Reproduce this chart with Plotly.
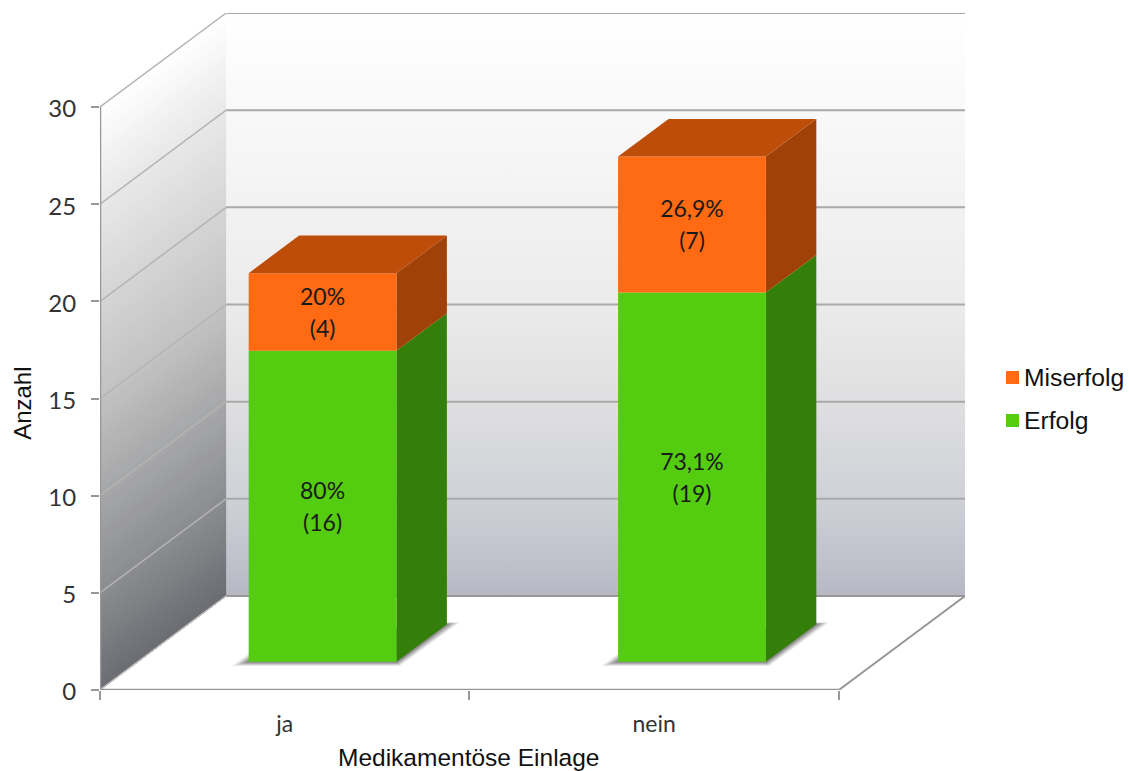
import plotly.graph_objects as go
from plotly.colors import sample_colorscale

# Chart data
categories = ["ja", "nein"]
erfolg = [16, 19]
miserfolg = [4, 7]
erfolg_pct = ["80%", "73,1%"]
miserfolg_pct = ["20%", "26,9%"]
y_ticks = [0, 5, 10, 15, 20, 25, 30]

# Oblique projection: how far one full unit of depth shifts along each axis
DEPTH_X = 126 / 369
DEPTH_Y = 94 / 19.43
BAR_WIDTH = 0.4
BAR_LEFT = 0.3
BAR_NEAR = 0.3
BAR_FAR = 0.7
Y_MAX = 30
X_MAX = len(categories)

GREEN = ("#54cc10", "#347f0a")
ORANGE = ("#ff6a13", "#a04208")
ORANGE_TOP = "#bf4d0a"
GRID = "#a9a9a9"
AXIS = "#979797"
SANS = "Liberation Sans, Arial, sans-serif"
LABEL = "Lato, sans-serif"

SIDE_WALL = [[0, "#6b6d73"], [1 / 6, "#8b8c8f"], [1 / 2, "#c2c2c2"], [5 / 6, "#e8e8e8"], [1, "#ffffff"]]
BACK_WALL = [[0, "#ffffff"], [1 / 3, "#f2f2f2"], [1 / 2, "#ebebeb"], [2 / 3, "#dfdfe1"], [5 / 6, "#cfd1d7"], [1, "#b6b9c4"]]


def project(x, value, depth):
    return x + depth * DEPTH_X, value + depth * DEPTH_Y


def polygon(points, color, opacity=1.0, edge=0):
    xs, ys = zip(*[project(*p) for p in points])
    return go.Scatter(
        x=list(xs) + [xs[0]], y=list(ys) + [ys[0]], mode="lines", fill="toself",
        fillcolor=color, opacity=opacity, line=dict(color=color, width=edge),
        hoverinfo="skip", showlegend=False,
    )


def segment(points, color, width):
    xs, ys = zip(*[project(*p) for p in points])
    return go.Scatter(
        x=list(xs), y=list(ys), mode="lines", line=dict(color=color, width=width),
        cliponaxis=False, hoverinfo="skip", showlegend=False,
    )


fig = go.Figure()

# Side wall: overlapping bands along the depth direction, painted from the top down
STRIPS = 90
for i in reversed(range(STRIPS)):
    v1 = Y_MAX * (i + 1) / STRIPS
    col = sample_colorscale(SIDE_WALL, (i + 0.5) / STRIPS)[0]
    fig.add_trace(polygon([(0, 0, 0), (0, 0, 1), (0, v1, 1), (0, v1, 0)], col))

# Back wall with a vertical gradient
bx, by = zip(*[project(*p) for p in [(0, 0, 1), (X_MAX, 0, 1), (X_MAX, Y_MAX, 1), (0, Y_MAX, 1), (0, 0, 1)]])
fig.add_trace(go.Scatter(
    x=bx, y=by, mode="lines", fill="toself", line=dict(width=0),
    fillgradient=dict(type="vertical", colorscale=[[1 - s, c] for s, c in BACK_WALL][::-1]),
    hoverinfo="skip", showlegend=False,
))

# Gridlines across both walls
for v in y_ticks[1:]:
    fig.add_trace(segment([(0, v, 1), (X_MAX, v, 1)], GRID, 2))
    fig.add_trace(segment([(0, v, 0), (0, v, 1)], "#b4b4b4", 1.5))

# Floor outline and axis lines
fig.add_trace(segment([(0, 0, 1), (X_MAX, 0, 1)], AXIS, 2))
fig.add_trace(segment([(X_MAX, 0, 0), (X_MAX, 0, 1)], AXIS, 2))
fig.add_trace(segment([(0, 0, 0), (0, 0, 1)], "#c4c4c4", 1.5))
fig.add_trace(segment([(0, 0, 0), (X_MAX, 0, 0)], AXIS, 2.5))
fig.add_trace(segment([(0, 0, 0), (0, Y_MAX, 0)], AXIS, 2.5))

# Bars with their contact shadows
for i, (low, high) in enumerate(zip(erfolg, miserfolg)):
    x0 = i + BAR_LEFT
    x1 = x0 + BAR_WIDTH
    for grow, alpha in ((1.0, 0.1), (0.8, 0.14), (0.6, 0.18), (0.4, 0.22), (0.2, 0.25)):
        near = BAR_NEAR - 0.045 * grow
        far = BAR_FAR + 0.02 * grow
        fig.add_trace(polygon([
            (x0 - 0.03 * grow, 0, near),
            (x0 - 0.03 * grow, 0, near + 0.2),
            (x1 - 0.05, 0, far),
            (x1 + 0.028 * grow, 0, far),
            (x1 + 0.024 * grow, 0, near),
        ], "#4a4a4a", opacity=alpha))

    base = 0
    for height, (front, side) in ((low, GREEN), (high, ORANGE)):
        top = base + height
        fig.add_trace(polygon([(x1, base, BAR_NEAR), (x1, base, BAR_FAR), (x1, top, BAR_FAR), (x1, top, BAR_NEAR)], side))
        fig.add_trace(polygon([(x0, base, BAR_NEAR), (x1, base, BAR_NEAR), (x1, top, BAR_NEAR), (x0, top, BAR_NEAR)], front))
        base = top
    fig.add_trace(polygon([(x0, base, BAR_NEAR), (x1, base, BAR_NEAR), (x1, base, BAR_FAR), (x0, base, BAR_FAR)], ORANGE_TOP))

# Value labels: percentage above the midpoint of each segment, count below it
label_x, label_y, label_pct, label_n = [], [], [], []
for i in range(len(categories)):
    cx, _ = project(i + BAR_LEFT + BAR_WIDTH / 2, 0, BAR_NEAR)
    _, floor = project(0, 0, BAR_NEAR)
    label_x += [cx, cx]
    label_y += [floor + erfolg[i] / 2, floor + erfolg[i] + miserfolg[i] / 2]
    label_pct += [erfolg_pct[i], miserfolg_pct[i]]
    label_n += [f"({erfolg[i]})", f"({miserfolg[i]})"]

for text, pos, gap in ((label_pct, "top center", 1), (label_n, "bottom center", 10)):
    fig.add_trace(go.Scatter(
        x=label_x, y=label_y, mode="markers+text", text=text, textposition=pos,
        marker=dict(size=gap, opacity=0),
        textfont=dict(family=LABEL, size=23, color="#1a1a1a"),
        hoverinfo="skip", showlegend=False,
    ))

# Plot area edges in pixels on the 1129x771 page
PX_LEFT, PX_RIGHT, PX_TOP, PX_BOTTOM = 100, 965, 13, 690


def paper_x(px):
    return (px - PX_LEFT) / (PX_RIGHT - PX_LEFT)


def paper_y(px):
    return (PX_BOTTOM - px) / (PX_BOTTOM - PX_TOP)


# Legend keys and names
shapes = []
annotations = []
for name, color, top in (("Miserfolg", ORANGE[0], 371), ("Erfolg", GREEN[0], 414)):
    shapes.append(dict(
        type="rect", xref="paper", yref="paper", line=dict(width=0), fillcolor=color,
        x0=paper_x(1006), x1=paper_x(1019), y0=paper_y(top + 13), y1=paper_y(top),
    ))
    annotations.append(dict(
        text=name, xref="paper", yref="paper", x=paper_x(1022), y=paper_y(top + 6),
        xanchor="left", yanchor="middle", showarrow=False,
        font=dict(family=SANS, size=24.7, color="#111111"),
    ))

annotations.append(dict(
    text="Medikamentöse Einlage", xref="x", yref="paper", x=X_MAX / 2, y=paper_y(757),
    xanchor="center", yanchor="middle", showarrow=False,
    font=dict(family=SANS, size=24.5, color="#111111"),
))
annotations.append(dict(
    text="Anzahl", xref="paper", yref="y", x=paper_x(22.5), y=14.75, textangle=-90,
    xanchor="center", yanchor="middle", showarrow=False,
    font=dict(family=SANS, size=24, color="#111111"),
))

fig.update_layout(
    width=1129, height=771, autosize=False, showlegend=False,
    paper_bgcolor="white", plot_bgcolor="white",
    margin=dict(l=PX_LEFT, r=1129 - PX_RIGHT, t=PX_TOP, b=771 - PX_BOTTOM, pad=0),
    shapes=shapes, annotations=annotations,
    xaxis=dict(
        range=[0, X_MAX + DEPTH_X], showgrid=False, zeroline=False, showline=False,
        tickmode="array", tickvals=[i + 0.5 for i in range(X_MAX)], ticktext=categories,
        ticks="", ticklabelstandoff=18,
        tickfont=dict(family=LABEL, size=23, color="#333333"),
        minor=dict(tickvals=list(range(X_MAX + 1)), ticks="outside", ticklen=9, tickwidth=2, tickcolor=AXIS, showgrid=False),
    ),
    yaxis=dict(
        range=[0, Y_MAX + DEPTH_Y], showgrid=False, zeroline=False, showline=False,
        tickmode="array", tickvals=y_ticks, ticks="outside", ticklen=8, tickwidth=2, tickcolor=AXIS,
        ticklabelstandoff=10, ticklabelshift=2,
        tickfont=dict(family=LABEL, size=24, color="#333333"),
    ),
)

fig.write_html("out.html", config=dict(displayModeBar=False))
